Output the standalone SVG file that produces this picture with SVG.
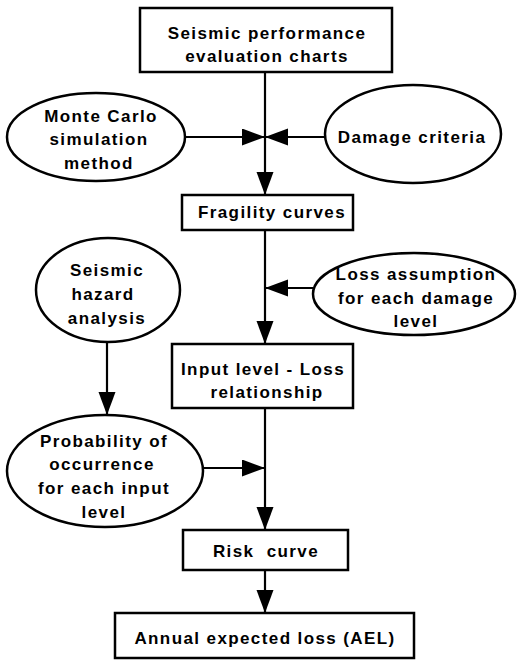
<svg xmlns="http://www.w3.org/2000/svg" width="517" height="660" viewBox="0 0 517 660">
<style>
.box{fill:#fff;stroke:#000;stroke-width:2.5}
.ell{fill:#fff;stroke:#000;stroke-width:2.5}
.t{font-family:"Liberation Sans",Arial,sans-serif;font-size:17px;font-weight:bold;letter-spacing:1.4px;text-anchor:middle;fill:#000}
.c{stroke:#000;stroke-width:2.2;fill:none;marker-end:url(#ah)}
.l{stroke:#000;stroke-width:2.2;fill:none}
</style>
<defs>
<marker id="ah" markerUnits="userSpaceOnUse" markerWidth="24" markerHeight="18" refX="23" refY="8.5" orient="auto">
<path d="M0,0 L23,8.5 L0,17 z" fill="#000"/>
</marker>
</defs>
<rect width="517" height="660" fill="#fff"/>
<g id="connectors">
<line class="l" x1="265" y1="72" x2="265" y2="137"/>
<line class="c" x1="265" y1="137" x2="265" y2="195"/>
<line class="c" x1="185" y1="137" x2="265" y2="137"/>
<line class="c" x1="325" y1="137" x2="265" y2="137"/>
<line class="l" x1="265" y1="230" x2="265" y2="288"/>
<line class="c" x1="313" y1="288" x2="265" y2="288"/>
<line class="c" x1="265" y1="288" x2="265" y2="344"/>
<line class="c" x1="107" y1="342" x2="107" y2="415"/>
<line class="l" x1="265" y1="408" x2="265" y2="468"/>
<line class="c" x1="203" y1="468" x2="265" y2="468"/>
<line class="c" x1="265" y1="468" x2="265" y2="530"/>
<line class="c" x1="265" y1="570" x2="265" y2="613"/>
</g>
<g id="seismic-performance">
<rect class="box" x="140" y="8" width="252" height="64"/>
<text class="t" x="267" y="39">Seismic performance</text>
<text class="t" x="267" y="62">evaluation charts</text>
</g>
<g id="monte-carlo">
<ellipse class="ell" cx="96" cy="137" rx="89" ry="44"/>
<text class="t" x="101" y="122">Monte Carlo</text>
<text class="t" x="99" y="145">simulation</text>
<text class="t" x="99" y="169">method</text>
</g>
<g id="damage-criteria">
<ellipse class="ell" cx="413" cy="134" rx="88" ry="49"/>
<text class="t" x="412" y="143">Damage criteria</text>
</g>
<g id="fragility">
<rect class="box" x="182" y="195" width="171" height="35"/>
<text class="t" x="272" y="218">Fragility curves</text>
</g>
<g id="loss-assumption">
<ellipse class="ell" cx="414" cy="294" rx="101" ry="41"/>
<text class="t" x="416" y="280">Loss assumption</text>
<text class="t" x="416" y="304">for each damage</text>
<text class="t" x="416" y="327">level</text>
</g>
<g id="seismic-hazard">
<ellipse class="ell" cx="108" cy="290" rx="72" ry="52"/>
<text class="t" x="107" y="276">Seismic</text>
<text class="t" x="103" y="300">hazard</text>
<text class="t" x="107" y="324">analysis</text>
</g>
<g id="input-loss">
<rect class="box" x="172" y="344" width="181" height="64"/>
<text class="t" x="263" y="375">Input level - Loss</text>
<text class="t" x="267" y="398">relationship</text>
</g>
<g id="probability">
<ellipse class="ell" cx="105" cy="471" rx="98" ry="56"/>
<text class="t" x="104" y="447">Probability of</text>
<text class="t" x="102" y="470">occurrence</text>
<text class="t" x="104" y="494">for each input</text>
<text class="t" x="104" y="518">level</text>
</g>
<g id="risk-curve">
<rect class="box" x="183" y="530" width="165" height="40"/>
<text class="t" x="266" y="557" xml:space="preserve">Risk  curve</text>
</g>
<g id="ael">
<rect class="box" x="115" y="613" width="299" height="45"/>
<text class="t" x="265" y="644">Annual expected loss (AEL)</text>
</g>
</svg>
